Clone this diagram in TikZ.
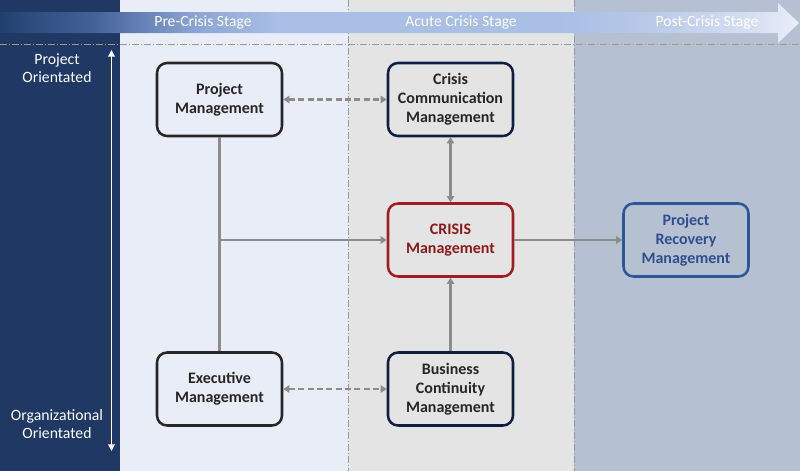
\documentclass[tikz,border=0pt]{standalone}
\usepackage{fontspec}
\setmainfont{Carlito}
\usetikzlibrary{arrows.meta,shadings}
\definecolor{navy}{HTML}{1F3864}
\definecolor{prebg}{HTML}{E9EDF7}
\definecolor{acutebg}{HTML}{E4E4E4}
\definecolor{postbg}{HTML}{B5C0D0}
\definecolor{sepline}{HTML}{9A9A9A}
\definecolor{conn}{HTML}{8C8C8C}
\definecolor{boxdark}{HTML}{262626}
\definecolor{boxnavy}{HTML}{0F1F40}
\definecolor{crisisred}{HTML}{A01E22}
\definecolor{crisistext}{HTML}{8B1A1A}
\definecolor{recblue}{HTML}{2E5597}
\definecolor{rectext}{HTML}{2E4F8F}
\definecolor{bA}{HTML}{22406F}
\definecolor{bB}{HTML}{45639A}
\definecolor{bC}{HTML}{8AA3D3}
\definecolor{bD}{HTML}{A9BFE6}
\definecolor{bE}{HTML}{BACAE8}
\definecolor{bF}{HTML}{D5DFF1}
\definecolor{bG}{HTML}{E9EFF8}
\pgfdeclarehorizontalshading{banner}{100bp}{color(0bp)=(bA); color(25bp)=(bA); color(31bp)=(bB); color(37bp)=(bC); color(42.5bp)=(bD); color(60bp)=(bD); color(66bp)=(bE); color(72bp)=(bF); color(75bp)=(bG); color(100bp)=(bG)}
\tikzset{
  mgmt/.style={draw, line width=1.9pt, rounded corners=7.5pt, minimum width=93.75pt, minimum height=54.75pt, align=center, font=\fontsize{12}{14.25}\selectfont\bfseries, inner sep=2pt},
  darkbox/.style={mgmt, draw=boxdark, fill=prebg, text=boxdark},
  navybox/.style={mgmt, draw=boxnavy, fill=acutebg, text=boxdark},
  crisisbox/.style={mgmt, draw=crisisred, fill=acutebg, text=crisistext},
  recbox/.style={mgmt, draw=recblue, fill=postbg, text=rectext},
  link/.style={draw=conn, line width=1.8pt},
  tip/.style={-{Triangle[length=4.5pt,width=5.5pt]}},
  dtip/.style={{Triangle[length=4.5pt,width=5.5pt]}-{Triangle[length=4.5pt,width=5.5pt]}},
  dashlink/.style={link, dash pattern=on 4.5pt off 2.5pt},
  sep/.style={draw=sepline, line width=0.6pt, dash pattern=on 5pt off 1.5pt on 1pt off 1.5pt},
  stagelabel/.style={text=white, font=\fontsize{11.7}{13}\selectfont},
  sidelabel/.style={text=white, align=center, font=\fontsize{11.8}{13.5}\selectfont}
}
\begin{document}
\begin{tikzpicture}[x=0.75pt,y=-0.75pt]
\useasboundingbox (0,0) rectangle (800,471);
% columns
\fill[navy] (0,0) rectangle (120,471);
\fill[prebg] (120,0) rectangle (348,471);
\fill[acutebg] (348,0) rectangle (574,471);
\fill[postbg] (574,0) rectangle (800,471);
% separators
\draw[sep] (348,0) -- (348,471);
\draw[sep] (574,0) -- (574,471);
\draw[sep] (0,44) -- (800,44);
% banner arrow
\shade[shading=banner] (0,12) -- (778,12) -- (778,3) -- (799,23) -- (778,43) -- (778,33) -- (0,33) -- cycle;
\node[stagelabel] (pre) at (203,22) {Pre-Crisis Stage};
\node[stagelabel] (acute) at (461,22) {Acute Crisis Stage};
\node[stagelabel] (post) at (707,22) {Post-Crisis Stage};
% side labels
\node[sidelabel] (po) at (57,68) {Project\\Orientated};
\node[sidelabel] (oo) at (57,424.5) {Organizational\\Orientated};
\coordinate (axtop) at (111.5,50);
\coordinate (axbot) at (111.5,451);
\draw[white, line width=1.4pt, {Triangle[length=5pt,width=5pt]}-{Triangle[length=5pt,width=5pt]}] (axtop) -- (axbot);
% boxes
\node[darkbox] (pm) at (219.5,99.5) {Project\\Management};
\node[navybox] (ccm) at (450.5,99.5) {Crisis\\Communication\\Management};
\node[crisisbox] (cm) at (450.5,240) {CRISIS\\Management};
\node[recbox] (prm) at (686,240) {Project\\Recovery\\Management};
\node[darkbox] (em) at (219.5,389) {Executive\\Management};
\node[navybox] (bcm) at (450.5,389) {Business\\Continuity\\Management};
% connectors
\draw[dashlink, dtip] (pm.east) -- (ccm.west);
\draw[dashlink, dtip] (em.east) -- (bcm.west);
\draw[link, dtip] (ccm.south) -- (cm.north);
\draw[link, tip] (bcm.north) -- (cm.south);
\draw[link] (pm.south) -- (em.north);
\coordinate (j) at (219.5,240);
\draw[link, tip] (j) -- (cm.west);
\draw[link, tip] (cm.east) -- (prm.west);
\end{tikzpicture}
\end{document}
